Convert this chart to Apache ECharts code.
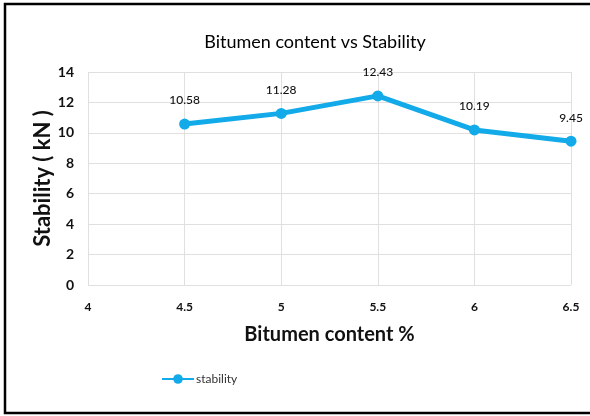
<!DOCTYPE html>
<html>
<head>
<meta charset="utf-8">
<script src="https://cdn.jsdelivr.net/npm/echarts@6/dist/echarts.min.js"></script>
<style>
  html, body { margin: 0; padding: 0; background: #fff; }
  #chart { width: 590px; height: 416px; }
</style>
</head>
<body>
<div id="chart"></div>
<script>
const bitumenContent = [4.5, 5, 5.5, 6, 6.5]
const stability = [10.58, 11.28, 12.43, 10.19, 9.45]

const chart = echarts.init(document.getElementById('chart'))
const font = 'Lato, "Open Sans", sans-serif'

chart.setOption({
  backgroundColor: '#fff',
  animation: false,
  title: {
    text: 'Bitumen content vs Stability',
    left: 310,
    top: 28,
    textAlign: 'center',
    textStyle: { fontFamily: font, fontSize: 18, fontWeight: 'normal', color: '#000' }
  },
  graphic: [{
    type: 'rect',
    shape: { x: 5, y: 4, width: 600, height: 409 },
    style: { fill: 'none', stroke: '#000', lineWidth: 2.5 },
    silent: true
  }],
  legend: {
    left: 156,
    top: 368,
    itemWidth: 32,
    itemHeight: 12,
    itemGap: 2,
    textStyle: { fontFamily: font, fontSize: 12, color: '#333', padding: [0, 0, 0, -3] },
    data: ['stability']
  },
  grid: { left: 88, right: 19, top: 72, bottom: 131 },
  xAxis: {
    type: 'value',
    min: 4,
    max: 6.5,
    interval: 0.5,
    name: 'Bitumen content %',
    nameLocation: 'middle',
    nameGap: 40,
    nameMoveOverlap: false,
    nameTextStyle: { fontFamily: font, fontSize: 20, fontWeight: 'bold', color: '#111' },
    axisLine: { show: false },
    axisTick: { show: false },
    axisLabel: { fontFamily: font, fontSize: 12, fontWeight: 'bold', color: '#111', margin: 16 },
    splitLine: { show: true, lineStyle: { color: '#e0e0e0' } }
  },
  yAxis: {
    type: 'value',
    min: 0,
    max: 14,
    interval: 2,
    name: 'Stability ( kN )',
    nameLocation: 'middle',
    nameGap: 34,
    nameMoveOverlap: false,
    nameTextStyle: { fontFamily: font, fontSize: 22, fontWeight: 'bold', color: '#111' },
    axisLine: { show: false },
    axisTick: { show: false },
    axisLabel: { fontFamily: font, fontSize: 14, fontWeight: 'bold', color: '#111', margin: 14 },
    splitLine: { lineStyle: { color: '#e0e0e0' } }
  },
  series: [{
    name: 'stability',
    type: 'line',
    data: bitumenContent.map((x, i) => [x, stability[i]]),
    color: '#12AAE8',
    lineStyle: { width: 5, color: '#12AAE8' },
    symbol: 'circle',
    symbolSize: 11,
    itemStyle: { color: '#12AAE8' },
    label: {
      show: true,
      position: 'top',
      distance: 12,
      fontFamily: font,
      fontSize: 12,
      fontWeight: 500,
      color: '#111',
      formatter: p => p.value[1].toFixed(2)
    }
  }]
})
</script>
</body>
</html>
